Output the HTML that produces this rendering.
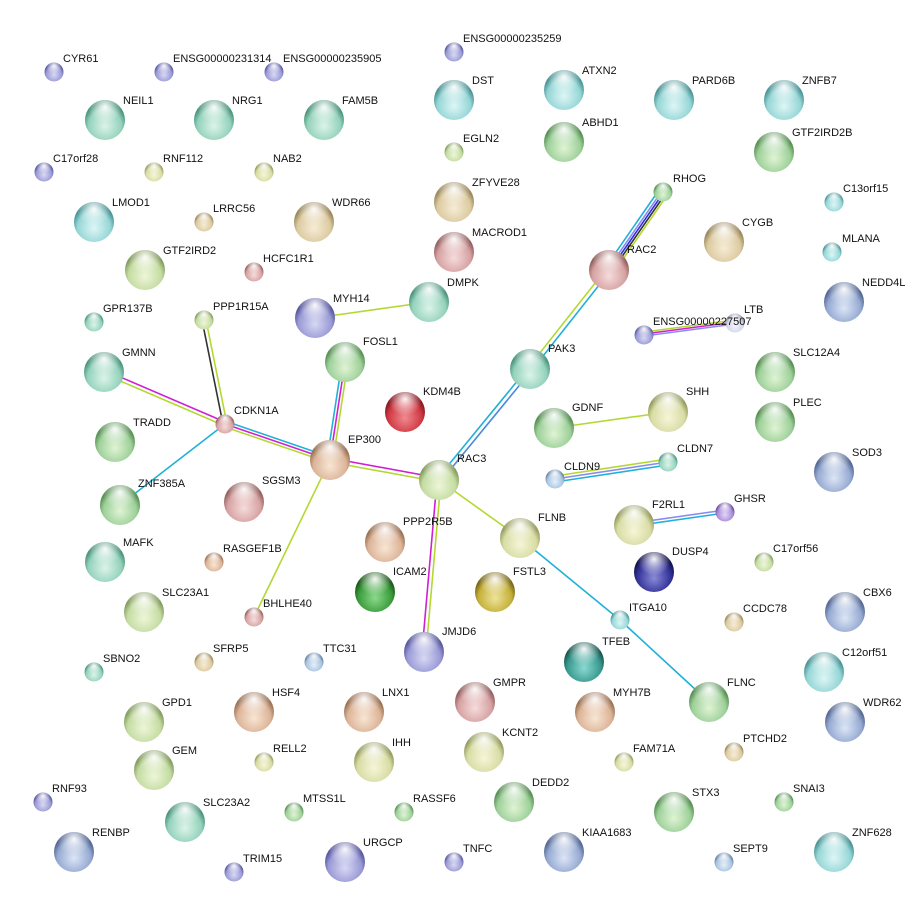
<!DOCTYPE html>
<html><head><meta charset="utf-8"><style>
html,body{margin:0;padding:0;background:#fff;}
svg text{font-family:"Liberation Sans",Arial,sans-serif;font-size:11px;fill:#111;}
</style></head><body>
<svg width="915" height="917" viewBox="0 0 915 917" xmlns="http://www.w3.org/2000/svg">
<defs>
<radialGradient id="hl" cx="50%" cy="18%" r="42%"><stop offset="0" stop-color="#fff" stop-opacity=".95"/><stop offset=".6" stop-color="#fff" stop-opacity=".35"/><stop offset="1" stop-color="#fff" stop-opacity="0"/></radialGradient>
<radialGradient id="bv" cx="50%" cy="65%" r="55%"><stop offset="0" stop-color="#d8d8f4"/><stop offset=".75" stop-color="#9a9ad6"/><stop offset="1" stop-color="#5a5aa0"/></radialGradient>
<radialGradient id="te" cx="50%" cy="65%" r="55%"><stop offset="0" stop-color="#dcf4ea"/><stop offset=".75" stop-color="#94d2bc"/><stop offset="1" stop-color="#4e9680"/></radialGradient>
<radialGradient id="cy" cx="50%" cy="65%" r="55%"><stop offset="0" stop-color="#def6f6"/><stop offset=".75" stop-color="#96d6d6"/><stop offset="1" stop-color="#4e9698"/></radialGradient>
<radialGradient id="gr" cx="50%" cy="65%" r="55%"><stop offset="0" stop-color="#e0f4d4"/><stop offset=".75" stop-color="#9ed09a"/><stop offset="1" stop-color="#5a9256"/></radialGradient>
<radialGradient id="lg" cx="50%" cy="65%" r="55%"><stop offset="0" stop-color="#eef6d8"/><stop offset=".75" stop-color="#c4dca2"/><stop offset="1" stop-color="#869e62"/></radialGradient>
<radialGradient id="yg" cx="50%" cy="65%" r="55%"><stop offset="0" stop-color="#f6f6d8"/><stop offset=".75" stop-color="#d8dca4"/><stop offset="1" stop-color="#989e62"/></radialGradient>
<radialGradient id="tn" cx="50%" cy="65%" r="55%"><stop offset="0" stop-color="#f6ecd6"/><stop offset=".75" stop-color="#dccaa0"/><stop offset="1" stop-color="#9c8a5e"/></radialGradient>
<radialGradient id="pk" cx="50%" cy="65%" r="55%"><stop offset="0" stop-color="#f6dcdc"/><stop offset=".75" stop-color="#d6a2a2"/><stop offset="1" stop-color="#966262"/></radialGradient>
<radialGradient id="pe" cx="50%" cy="65%" r="55%"><stop offset="0" stop-color="#f8e6d4"/><stop offset=".75" stop-color="#dcb498"/><stop offset="1" stop-color="#9c7458"/></radialGradient>
<radialGradient id="rd" cx="50%" cy="65%" r="55%"><stop offset="0" stop-color="#f08a90"/><stop offset=".75" stop-color="#d03a44"/><stop offset="1" stop-color="#8a1a22"/></radialGradient>
<radialGradient id="dg" cx="50%" cy="65%" r="55%"><stop offset="0" stop-color="#8ada8a"/><stop offset=".75" stop-color="#3c9c3c"/><stop offset="1" stop-color="#1c5c1c"/></radialGradient>
<radialGradient id="db" cx="50%" cy="65%" r="55%"><stop offset="0" stop-color="#8a8ad8"/><stop offset=".75" stop-color="#34349a"/><stop offset="1" stop-color="#141450"/></radialGradient>
<radialGradient id="ol" cx="50%" cy="65%" r="55%"><stop offset="0" stop-color="#eee49a"/><stop offset=".75" stop-color="#c4b03a"/><stop offset="1" stop-color="#7a6a18"/></radialGradient>
<radialGradient id="dt" cx="50%" cy="65%" r="55%"><stop offset="0" stop-color="#8adad2"/><stop offset=".75" stop-color="#3a9a90"/><stop offset="1" stop-color="#1a5a54"/></radialGradient>
<radialGradient id="gb" cx="50%" cy="65%" r="55%"><stop offset="0" stop-color="#dce6f6"/><stop offset=".75" stop-color="#96aad2"/><stop offset="1" stop-color="#566a96"/></radialGradient>
<radialGradient id="li" cx="50%" cy="65%" r="55%"><stop offset="0" stop-color="#e4d6f8"/><stop offset=".75" stop-color="#a88ad8"/><stop offset="1" stop-color="#6a4a9c"/></radialGradient>
<radialGradient id="lb" cx="50%" cy="65%" r="55%"><stop offset="0" stop-color="#e6f0fa"/><stop offset=".75" stop-color="#a8c4e0"/><stop offset="1" stop-color="#6884a4"/></radialGradient>
<radialGradient id="wh" cx="50%" cy="65%" r="55%"><stop offset="0" stop-color="#f4f4fa"/><stop offset=".75" stop-color="#d4d6ea"/><stop offset="1" stop-color="#9496b0"/></radialGradient>
</defs>

<g fill="none" stroke-width="1.6">
<!-- PPP1R15A - CDKN1A -->
<line x1="202" y1="320" x2="223" y2="424" stroke="#333"/>
<line x1="206" y1="320" x2="227" y2="424" stroke="#b4d832"/>
<!-- GMNN - CDKN1A -->
<line x1="104" y1="370" x2="225" y2="422" stroke="#d020d0"/>
<line x1="104" y1="374" x2="225" y2="426" stroke="#b4d832"/>
<!-- CDKN1A - EP300 -->
<line x1="225" y1="421" x2="330" y2="457" stroke="#20b0d8"/>
<line x1="225" y1="424" x2="330" y2="460" stroke="#d020d0"/>
<line x1="225" y1="427" x2="330" y2="463" stroke="#b4d832"/>
<!-- CDKN1A - ZNF385A -->
<line x1="225" y1="424" x2="120" y2="505" stroke="#20b0d8"/>
<!-- FOSL1 - EP300 -->
<line x1="342" y1="362" x2="327" y2="460" stroke="#20b0d8"/>
<line x1="345" y1="362" x2="330" y2="460" stroke="#d020d0"/>
<line x1="348" y1="362" x2="333" y2="460" stroke="#b4d832"/>
<!-- EP300 - RAC3 -->
<line x1="330" y1="458" x2="439" y2="478" stroke="#d020d0"/>
<line x1="330" y1="462" x2="439" y2="482" stroke="#b4d832"/>
<!-- EP300 - BHLHE40 -->
<line x1="330" y1="460" x2="254" y2="617" stroke="#b4d832"/>
<!-- RAC3 - JMJD6 -->
<line x1="437" y1="480" x2="422" y2="652" stroke="#d020d0"/>
<line x1="441" y1="480" x2="426" y2="652" stroke="#b4d832"/>
<!-- RAC3 - FLNB -->
<line x1="439" y1="480" x2="520" y2="538" stroke="#b4d832"/>
<!-- RAC3 - PAK3 -->
<line x1="437" y1="479" x2="528" y2="368" stroke="#20b0d8"/>
<line x1="441" y1="481" x2="532" y2="370" stroke="#4a8ad8"/>
<!-- PAK3 - RAC2 -->
<line x1="528" y1="368" x2="607" y2="268" stroke="#b4d832"/>
<line x1="532" y1="370" x2="611" y2="270" stroke="#20b0d8"/>
<!-- RAC2 - RHOG -->
<line x1="605" y1="268" x2="659" y2="190" stroke="#20b0d8"/>
<line x1="608" y1="269" x2="662" y2="191" stroke="#8a8af0"/>
<line x1="610" y1="270" x2="664" y2="192" stroke="#3030e0"/>
<line x1="612" y1="271" x2="666" y2="193" stroke="#333"/>
<line x1="614" y1="272" x2="668" y2="194" stroke="#b4d832"/>
<!-- MYH14 - DMPK -->
<line x1="315" y1="318" x2="429" y2="302" stroke="#b4d832"/>
<!-- ENSG227507 - LTB -->
<line x1="644" y1="332" x2="735" y2="320" stroke="#b4d832"/>
<line x1="644" y1="334" x2="735" y2="322" stroke="#d020d0"/>
<line x1="644" y1="336" x2="735" y2="324" stroke="#8a8af0"/>
<!-- GDNF - SHH -->
<line x1="554" y1="428" x2="668" y2="412" stroke="#b4d832"/>
<!-- CLDN9 - CLDN7 -->
<line x1="555" y1="476" x2="668" y2="459" stroke="#b4d832"/>
<line x1="555" y1="479" x2="668" y2="462" stroke="#8a8af0"/>
<line x1="555" y1="482" x2="668" y2="465" stroke="#20b0d8"/>
<!-- F2RL1 - GHSR -->
<line x1="634" y1="523" x2="725" y2="510" stroke="#8a8af0"/>
<line x1="634" y1="526" x2="725" y2="513" stroke="#20b0d8"/>
<!-- FLNB - ITGA10 - FLNC -->
<line x1="520" y1="538" x2="620" y2="620" stroke="#20b0d8"/>
<line x1="620" y1="620" x2="709" y2="702" stroke="#20b0d8"/>
</g>

<g>
<!-- Node helper: circle color + highlight -->
<circle cx="54" cy="72" r="9.5" fill="url(#bv)"/><circle cx="54" cy="72" r="9.5" fill="url(#hl)"/><text x="63" y="62">CYR61</text>
<circle cx="164" cy="72" r="9.5" fill="url(#bv)"/><circle cx="164" cy="72" r="9.5" fill="url(#hl)"/><text x="173" y="62">ENSG00000231314</text>
<circle cx="274" cy="72" r="9.5" fill="url(#bv)"/><circle cx="274" cy="72" r="9.5" fill="url(#hl)"/><text x="283" y="62">ENSG00000235905</text>
<circle cx="454" cy="52" r="9.5" fill="url(#bv)"/><circle cx="454" cy="52" r="9.5" fill="url(#hl)"/><text x="463" y="42">ENSG00000235259</text>
<circle cx="105" cy="120" r="20" fill="url(#te)"/><circle cx="105" cy="120" r="20" fill="url(#hl)"/><text x="123" y="104">NEIL1</text>
<circle cx="214" cy="120" r="20" fill="url(#te)"/><circle cx="214" cy="120" r="20" fill="url(#hl)"/><text x="232" y="104">NRG1</text>
<circle cx="324" cy="120" r="20" fill="url(#te)"/><circle cx="324" cy="120" r="20" fill="url(#hl)"/><text x="342" y="104">FAM5B</text>
<circle cx="454" cy="100" r="20" fill="url(#cy)"/><circle cx="454" cy="100" r="20" fill="url(#hl)"/><text x="472" y="84">DST</text>
<circle cx="564" cy="90" r="20" fill="url(#cy)"/><circle cx="564" cy="90" r="20" fill="url(#hl)"/><text x="582" y="74">ATXN2</text>
<circle cx="674" cy="100" r="20" fill="url(#cy)"/><circle cx="674" cy="100" r="20" fill="url(#hl)"/><text x="692" y="84">PARD6B</text>
<circle cx="784" cy="100" r="20" fill="url(#cy)"/><circle cx="784" cy="100" r="20" fill="url(#hl)"/><text x="802" y="84">ZNFB7</text>
<circle cx="564" cy="142" r="20" fill="url(#gr)"/><circle cx="564" cy="142" r="20" fill="url(#hl)"/><text x="582" y="126">ABHD1</text>
<circle cx="774" cy="152" r="20" fill="url(#gr)"/><circle cx="774" cy="152" r="20" fill="url(#hl)"/><text x="792" y="136">GTF2IRD2B</text>
<circle cx="454" cy="152" r="9.5" fill="url(#lg)"/><circle cx="454" cy="152" r="9.5" fill="url(#hl)"/><text x="463" y="142">EGLN2</text>
<circle cx="44" cy="172" r="9.5" fill="url(#bv)"/><circle cx="44" cy="172" r="9.5" fill="url(#hl)"/><text x="53" y="162">C17orf28</text>
<circle cx="154" cy="172" r="9.5" fill="url(#yg)"/><circle cx="154" cy="172" r="9.5" fill="url(#hl)"/><text x="163" y="162">RNF112</text>
<circle cx="264" cy="172" r="9.5" fill="url(#yg)"/><circle cx="264" cy="172" r="9.5" fill="url(#hl)"/><text x="273" y="162">NAB2</text>
<circle cx="454" cy="202" r="20" fill="url(#tn)"/><circle cx="454" cy="202" r="20" fill="url(#hl)"/><text x="472" y="186">ZFYVE28</text>
<circle cx="663" cy="192" r="9.5" fill="url(#gr)"/><circle cx="663" cy="192" r="9.5" fill="url(#hl)"/><text x="673" y="182">RHOG</text>
<circle cx="834" cy="202" r="9.5" fill="url(#cy)"/><circle cx="834" cy="202" r="9.5" fill="url(#hl)"/><text x="843" y="192">C13orf15</text>
<circle cx="94" cy="222" r="20" fill="url(#cy)"/><circle cx="94" cy="222" r="20" fill="url(#hl)"/><text x="112" y="206">LMOD1</text>
<circle cx="204" cy="222" r="9.5" fill="url(#tn)"/><circle cx="204" cy="222" r="9.5" fill="url(#hl)"/><text x="213" y="212">LRRC56</text>
<circle cx="314" cy="222" r="20" fill="url(#tn)"/><circle cx="314" cy="222" r="20" fill="url(#hl)"/><text x="332" y="206">WDR66</text>
<circle cx="724" cy="242" r="20" fill="url(#tn)"/><circle cx="724" cy="242" r="20" fill="url(#hl)"/><text x="742" y="226">CYGB</text>
<circle cx="454" cy="252" r="20" fill="url(#pk)"/><circle cx="454" cy="252" r="20" fill="url(#hl)"/><text x="472" y="236">MACROD1</text>
<circle cx="832" cy="252" r="9.5" fill="url(#cy)"/><circle cx="832" cy="252" r="9.5" fill="url(#hl)"/><text x="842" y="242">MLANA</text>
<circle cx="609" cy="270" r="20" fill="url(#pk)"/><circle cx="609" cy="270" r="20" fill="url(#hl)"/><text x="627" y="253">RAC2</text>
<circle cx="145" cy="270" r="20" fill="url(#lg)"/><circle cx="145" cy="270" r="20" fill="url(#hl)"/><text x="163" y="254">GTF2IRD2</text>
<circle cx="254" cy="272" r="9.5" fill="url(#pk)"/><circle cx="254" cy="272" r="9.5" fill="url(#hl)"/><text x="263" y="262">HCFC1R1</text>
<circle cx="844" cy="302" r="20" fill="url(#gb)"/><circle cx="844" cy="302" r="20" fill="url(#hl)"/><text x="862" y="286">NEDD4L</text>
<circle cx="429" cy="302" r="20" fill="url(#te)"/><circle cx="429" cy="302" r="20" fill="url(#hl)"/><text x="447" y="286">DMPK</text>
<circle cx="315" cy="318" r="20" fill="url(#bv)"/><circle cx="315" cy="318" r="20" fill="url(#hl)"/><text x="333" y="302">MYH14</text>
<circle cx="204" cy="320" r="9.5" fill="url(#lg)"/><circle cx="204" cy="320" r="9.5" fill="url(#hl)"/><text x="213" y="310">PPP1R15A</text>
<circle cx="94" cy="322" r="9.5" fill="url(#te)"/><circle cx="94" cy="322" r="9.5" fill="url(#hl)"/><text x="103" y="312">GPR137B</text>
<circle cx="735" cy="323" r="9.5" fill="url(#wh)"/><circle cx="735" cy="323" r="9.5" fill="url(#hl)"/><text x="744" y="313">LTB</text>
<circle cx="644" cy="335" r="9.5" fill="url(#bv)"/><circle cx="644" cy="335" r="9.5" fill="url(#hl)"/><text x="653" y="325">ENSG00000227507</text>
<circle cx="104" cy="372" r="20" fill="url(#te)"/><circle cx="104" cy="372" r="20" fill="url(#hl)"/><text x="122" y="356">GMNN</text>
<circle cx="345" cy="362" r="20" fill="url(#gr)"/><circle cx="345" cy="362" r="20" fill="url(#hl)"/><text x="363" y="345">FOSL1</text>
<circle cx="530" cy="369" r="20" fill="url(#te)"/><circle cx="530" cy="369" r="20" fill="url(#hl)"/><text x="548" y="352">PAK3</text>
<circle cx="775" cy="372" r="20" fill="url(#gr)"/><circle cx="775" cy="372" r="20" fill="url(#hl)"/><text x="793" y="356">SLC12A4</text>
<circle cx="405" cy="412" r="20" fill="url(#rd)"/><circle cx="405" cy="412" r="20" fill="url(#hl)"/><text x="423" y="395">KDM4B</text>
<circle cx="225" cy="424" r="9.5" fill="url(#pk)"/><circle cx="225" cy="424" r="9.5" fill="url(#hl)"/><text x="234" y="414">CDKN1A</text>
<circle cx="668" cy="412" r="20" fill="url(#yg)"/><circle cx="668" cy="412" r="20" fill="url(#hl)"/><text x="686" y="395">SHH</text>
<circle cx="554" cy="428" r="20" fill="url(#gr)"/><circle cx="554" cy="428" r="20" fill="url(#hl)"/><text x="572" y="411">GDNF</text>
<circle cx="775" cy="422" r="20" fill="url(#gr)"/><circle cx="775" cy="422" r="20" fill="url(#hl)"/><text x="793" y="406">PLEC</text>
<circle cx="115" cy="442" r="20" fill="url(#gr)"/><circle cx="115" cy="442" r="20" fill="url(#hl)"/><text x="133" y="426">TRADD</text>
<circle cx="330" cy="460" r="20" fill="url(#pe)"/><circle cx="330" cy="460" r="20" fill="url(#hl)"/><text x="348" y="443">EP300</text>
<circle cx="668" cy="462" r="9.5" fill="url(#te)"/><circle cx="668" cy="462" r="9.5" fill="url(#hl)"/><text x="677" y="452">CLDN7</text>
<circle cx="834" cy="472" r="20" fill="url(#gb)"/><circle cx="834" cy="472" r="20" fill="url(#hl)"/><text x="852" y="456">SOD3</text>
<circle cx="555" cy="479" r="9.5" fill="url(#lb)"/><circle cx="555" cy="479" r="9.5" fill="url(#hl)"/><text x="564" y="470">CLDN9</text>
<circle cx="439" cy="480" r="20" fill="url(#lg)"/><circle cx="439" cy="480" r="20" fill="url(#hl)"/><text x="457" y="462">RAC3</text>
<circle cx="244" cy="502" r="20" fill="url(#pk)"/><circle cx="244" cy="502" r="20" fill="url(#hl)"/><text x="262" y="484">SGSM3</text>
<circle cx="120" cy="505" r="20" fill="url(#gr)"/><circle cx="120" cy="505" r="20" fill="url(#hl)"/><text x="138" y="487">ZNF385A</text>
<circle cx="725" cy="512" r="9.5" fill="url(#li)"/><circle cx="725" cy="512" r="9.5" fill="url(#hl)"/><text x="734" y="502">GHSR</text>
<circle cx="634" cy="525" r="20" fill="url(#yg)"/><circle cx="634" cy="525" r="20" fill="url(#hl)"/><text x="652" y="508">F2RL1</text>
<circle cx="520" cy="538" r="20" fill="url(#yg)"/><circle cx="520" cy="538" r="20" fill="url(#hl)"/><text x="538" y="521">FLNB</text>
<circle cx="385" cy="542" r="20" fill="url(#pe)"/><circle cx="385" cy="542" r="20" fill="url(#hl)"/><text x="403" y="525">PPP2R5B</text>
<circle cx="105" cy="562" r="20" fill="url(#te)"/><circle cx="105" cy="562" r="20" fill="url(#hl)"/><text x="123" y="546">MAFK</text>
<circle cx="654" cy="572" r="20" fill="url(#db)"/><circle cx="654" cy="572" r="20" fill="url(#hl)"/><text x="672" y="555">DUSP4</text>
<circle cx="764" cy="562" r="9.5" fill="url(#lg)"/><circle cx="764" cy="562" r="9.5" fill="url(#hl)"/><text x="773" y="552">C17orf56</text>
<circle cx="214" cy="562" r="9.5" fill="url(#pe)"/><circle cx="214" cy="562" r="9.5" fill="url(#hl)"/><text x="223" y="552">RASGEF1B</text>
<circle cx="375" cy="592" r="20" fill="url(#dg)"/><circle cx="375" cy="592" r="20" fill="url(#hl)"/><text x="393" y="575">ICAM2</text>
<circle cx="495" cy="592" r="20" fill="url(#ol)"/><circle cx="495" cy="592" r="20" fill="url(#hl)"/><text x="513" y="575">FSTL3</text>
<circle cx="845" cy="612" r="20" fill="url(#gb)"/><circle cx="845" cy="612" r="20" fill="url(#hl)"/><text x="863" y="596">CBX6</text>
<circle cx="144" cy="612" r="20" fill="url(#lg)"/><circle cx="144" cy="612" r="20" fill="url(#hl)"/><text x="162" y="596">SLC23A1</text>
<circle cx="254" cy="617" r="9.5" fill="url(#pk)"/><circle cx="254" cy="617" r="9.5" fill="url(#hl)"/><text x="263" y="607">BHLHE40</text>
<circle cx="620" cy="620" r="9.5" fill="url(#cy)"/><circle cx="620" cy="620" r="9.5" fill="url(#hl)"/><text x="629" y="611">ITGA10</text>
<circle cx="734" cy="622" r="9.5" fill="url(#tn)"/><circle cx="734" cy="622" r="9.5" fill="url(#hl)"/><text x="743" y="612">CCDC78</text>
<circle cx="424" cy="652" r="20" fill="url(#bv)"/><circle cx="424" cy="652" r="20" fill="url(#hl)"/><text x="442" y="635">JMJD6</text>
<circle cx="584" cy="662" r="20" fill="url(#dt)"/><circle cx="584" cy="662" r="20" fill="url(#hl)"/><text x="602" y="645">TFEB</text>
<circle cx="94" cy="672" r="9.5" fill="url(#te)"/><circle cx="94" cy="672" r="9.5" fill="url(#hl)"/><text x="103" y="662">SBNO2</text>
<circle cx="204" cy="662" r="9.5" fill="url(#tn)"/><circle cx="204" cy="662" r="9.5" fill="url(#hl)"/><text x="213" y="652">SFRP5</text>
<circle cx="314" cy="662" r="9.5" fill="url(#lb)"/><circle cx="314" cy="662" r="9.5" fill="url(#hl)"/><text x="323" y="652">TTC31</text>
<circle cx="824" cy="672" r="20" fill="url(#cy)"/><circle cx="824" cy="672" r="20" fill="url(#hl)"/><text x="842" y="656">C12orf51</text>
<circle cx="144" cy="722" r="20" fill="url(#lg)"/><circle cx="144" cy="722" r="20" fill="url(#hl)"/><text x="162" y="706">GPD1</text>
<circle cx="254" cy="712" r="20" fill="url(#pe)"/><circle cx="254" cy="712" r="20" fill="url(#hl)"/><text x="272" y="696">HSF4</text>
<circle cx="364" cy="712" r="20" fill="url(#pe)"/><circle cx="364" cy="712" r="20" fill="url(#hl)"/><text x="382" y="696">LNX1</text>
<circle cx="475" cy="702" r="20" fill="url(#pk)"/><circle cx="475" cy="702" r="20" fill="url(#hl)"/><text x="493" y="686">GMPR</text>
<circle cx="595" cy="712" r="20" fill="url(#pe)"/><circle cx="595" cy="712" r="20" fill="url(#hl)"/><text x="613" y="696">MYH7B</text>
<circle cx="709" cy="702" r="20" fill="url(#gr)"/><circle cx="709" cy="702" r="20" fill="url(#hl)"/><text x="727" y="686">FLNC</text>
<circle cx="845" cy="722" r="20" fill="url(#gb)"/><circle cx="845" cy="722" r="20" fill="url(#hl)"/><text x="863" y="706">WDR62</text>
<circle cx="374" cy="762" r="20" fill="url(#yg)"/><circle cx="374" cy="762" r="20" fill="url(#hl)"/><text x="392" y="746">IHH</text>
<circle cx="484" cy="752" r="20" fill="url(#yg)"/><circle cx="484" cy="752" r="20" fill="url(#hl)"/><text x="502" y="736">KCNT2</text>
<circle cx="264" cy="762" r="9.5" fill="url(#yg)"/><circle cx="264" cy="762" r="9.5" fill="url(#hl)"/><text x="273" y="752">RELL2</text>
<circle cx="154" cy="770" r="20" fill="url(#lg)"/><circle cx="154" cy="770" r="20" fill="url(#hl)"/><text x="172" y="754">GEM</text>
<circle cx="624" cy="762" r="9.5" fill="url(#yg)"/><circle cx="624" cy="762" r="9.5" fill="url(#hl)"/><text x="633" y="752">FAM71A</text>
<circle cx="734" cy="752" r="9.5" fill="url(#tn)"/><circle cx="734" cy="752" r="9.5" fill="url(#hl)"/><text x="743" y="742">PTCHD2</text>
<circle cx="43" cy="802" r="9.5" fill="url(#bv)"/><circle cx="43" cy="802" r="9.5" fill="url(#hl)"/><text x="52" y="792">RNF93</text>
<circle cx="294" cy="812" r="9.5" fill="url(#gr)"/><circle cx="294" cy="812" r="9.5" fill="url(#hl)"/><text x="303" y="802">MTSS1L</text>
<circle cx="404" cy="812" r="9.5" fill="url(#gr)"/><circle cx="404" cy="812" r="9.5" fill="url(#hl)"/><text x="413" y="802">RASSF6</text>
<circle cx="185" cy="822" r="20" fill="url(#te)"/><circle cx="185" cy="822" r="20" fill="url(#hl)"/><text x="203" y="806">SLC23A2</text>
<circle cx="514" cy="802" r="20" fill="url(#gr)"/><circle cx="514" cy="802" r="20" fill="url(#hl)"/><text x="532" y="786">DEDD2</text>
<circle cx="674" cy="812" r="20" fill="url(#gr)"/><circle cx="674" cy="812" r="20" fill="url(#hl)"/><text x="692" y="796">STX3</text>
<circle cx="784" cy="802" r="9.5" fill="url(#gr)"/><circle cx="784" cy="802" r="9.5" fill="url(#hl)"/><text x="793" y="792">SNAI3</text>
<circle cx="74" cy="852" r="20" fill="url(#gb)"/><circle cx="74" cy="852" r="20" fill="url(#hl)"/><text x="92" y="836">RENBP</text>
<circle cx="345" cy="862" r="20" fill="url(#bv)"/><circle cx="345" cy="862" r="20" fill="url(#hl)"/><text x="363" y="846">URGCP</text>
<circle cx="454" cy="862" r="9.5" fill="url(#bv)"/><circle cx="454" cy="862" r="9.5" fill="url(#hl)"/><text x="463" y="852">TNFC</text>
<circle cx="564" cy="852" r="20" fill="url(#gb)"/><circle cx="564" cy="852" r="20" fill="url(#hl)"/><text x="582" y="836">KIAA1683</text>
<circle cx="724" cy="862" r="9.5" fill="url(#lb)"/><circle cx="724" cy="862" r="9.5" fill="url(#hl)"/><text x="733" y="852">SEPT9</text>
<circle cx="834" cy="852" r="20" fill="url(#cy)"/><circle cx="834" cy="852" r="20" fill="url(#hl)"/><text x="852" y="836">ZNF628</text>
<circle cx="234" cy="872" r="9.5" fill="url(#bv)"/><circle cx="234" cy="872" r="9.5" fill="url(#hl)"/><text x="243" y="862">TRIM15</text>
</g>
</svg>
</body></html>
